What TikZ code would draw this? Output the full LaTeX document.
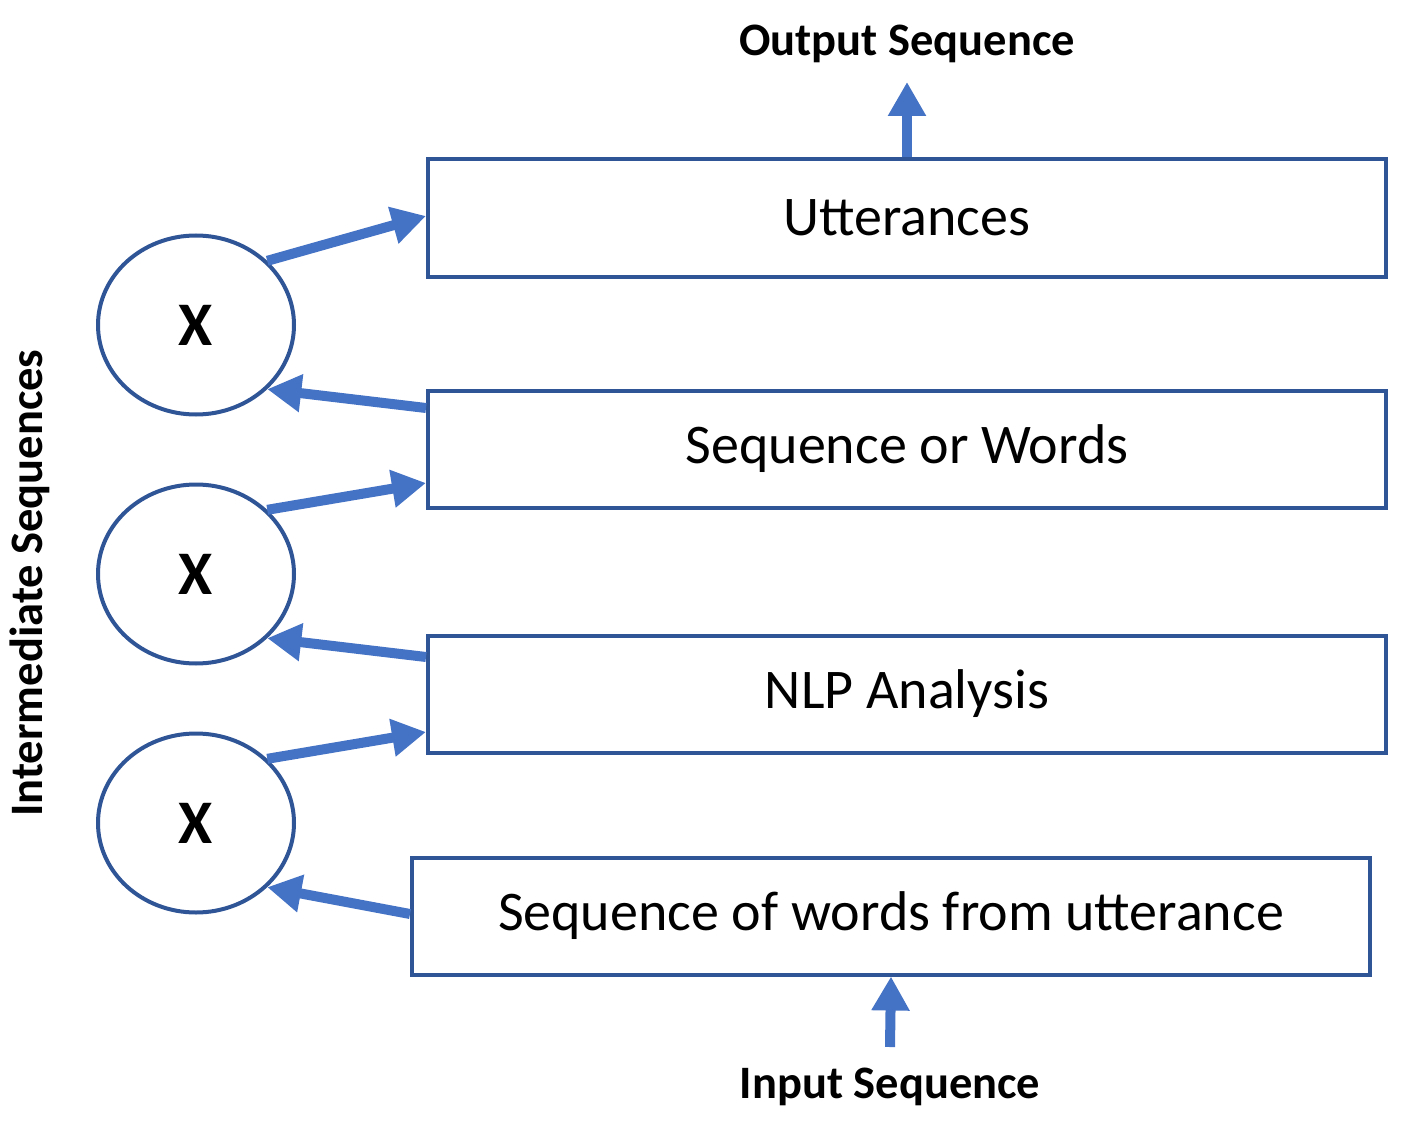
\documentclass[tikz,border=0pt]{standalone}
\usepackage{fontspec}
\setmainfont{Carlito}
\usetikzlibrary{arrows.meta,shapes.geometric,calc}
\definecolor{boxblue}{RGB}{47,85,151}
\definecolor{arrblue}{RGB}{68,114,196}
\tikzset{
  layerbox/.style={draw=boxblue,line width=4pt,minimum width=958pt,minimum height=117pt,inner sep=0pt,font=\fontsize{56}{64}\selectfont},
  mixnode/.style={draw=boxblue,line width=4pt,ellipse,minimum width=196pt,minimum height=179pt,inner sep=0pt,font=\bfseries\fontsize{62}{68}\selectfont},
  flow/.style={draw=arrblue,line width=10pt,-{Triangle[width=36pt,length=34pt]}},
  label/.style={font=\bfseries\fontsize{46.5}{52}\selectfont,inner sep=0pt}
}
\begin{document}
\begin{tikzpicture}[x=1pt,y=-1pt]
\useasboundingbox (0,0) rectangle (1428,1121);
% layer boxes
\node[layerbox] (u) at (907,218) {Utterances};
\node[layerbox] (sw) at (907,449) {Sequence or Words};
\node[layerbox] (nlp) at (907,694) {NLP Analysis};
\node[layerbox] (swu) at (891,916) {Sequence of words from utterance};
% mixing nodes
\node[mixnode] (c1) at (196,325) {X};
\node[mixnode] (c2) at (196,574) {X};
\node[mixnode] (c3) at (196,823) {X};
% labels
\node[label] (out) at (907,44) {Output Sequence};
\node[label] (in) at (890,1087) {Input Sequence};
\node[label,rotate=90] (inter) at (30,583) {Intermediate Sequences};
\coordinate (otip) at (907,82);
\coordinate (ibase) at (890,1047);
% connectors
\draw[flow] (c1.42) -- ($(u.west)+(0,-2)$);
\draw[flow] ($(sw.west)+(0,-41)$) -- (c1.-42);
\draw[flow] (c2.42) -- ($(sw.west)+(0,34)$);
\draw[flow] ($(nlp.west)+(0,-37)$) -- (c2.-42);
\draw[flow] (c3.42) -- ($(nlp.west)+(0,38)$);
\draw[flow] ($(swu.west)+(0,-2)$) -- (c3.-42);
\draw[flow] (u.north) -- (otip);
\draw[flow] (ibase) -- (swu.south);
\end{tikzpicture}
\end{document}
